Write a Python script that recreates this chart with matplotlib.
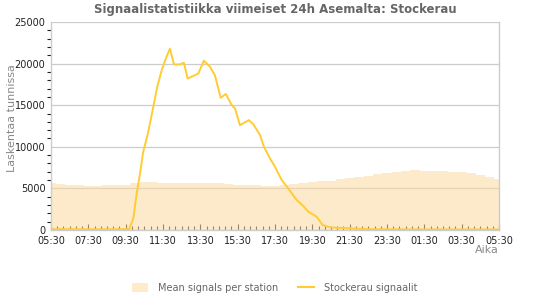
import matplotlib
matplotlib.use("Agg")
import matplotlib.pyplot as plt
import numpy as np
from matplotlib.lines import Line2D
from matplotlib.patches import Patch

# Hours after 05:30 for the mean-signal area (every 30 min)
mean_hours = [i * 0.5 for i in range(49)]
mean_values = [5600, 5550, 5400, 5400, 5300, 5300, 5400, 5400, 5450, 5600,
               5750, 5750, 5700, 5650, 5650, 5650, 5650, 5650, 5600, 5500,
               5450, 5350, 5350, 5300, 5300, 5350, 5500, 5600, 5750, 5850,
               5900, 6100, 6200, 6400, 6500, 6700, 6850, 7000, 7100, 7200,
               7150, 7100, 7100, 7000, 6950, 6800, 6600, 6400, 6100]

# Station signal line
station_hours = [0, 1, 2, 3, 4.0, 4.2, 4.41, 4.59, 4.77, 4.94, 5.2, 5.48, 5.7,
                 5.93, 6.15, 6.37, 6.59, 6.91, 7.12, 7.32, 7.6, 7.89, 8.19,
                 8.52, 8.78, 9.09, 9.37, 9.68, 9.86, 10.12, 10.6, 10.84, 11.2,
                 11.41, 11.73, 12.0, 12.36, 12.71, 13.16, 13.51, 13.78, 14.23,
                 14.55, 14.94, 16.0, 16.9, 18, 20, 22, 24]
station_values = [100, 100, 80, 80, 100, 150, 1400, 4400, 6800, 9400, 11700,
                  14800, 17300, 19200, 20600, 21800, 19900, 19900, 20100, 18200,
                  18500, 18800, 20350, 19600, 18600, 15900, 16350, 15000, 14600,
                  12600, 13200, 12700, 11400, 10000, 8600, 7600, 6000, 5000,
                  3600, 2900, 2200, 1600, 600, 320, 200, 100, 80, 60, 60, 60]

tick_labels = ["05:30", "07:30", "09:30", "11:30", "13:30", "15:30", "17:30",
               "19:30", "21:30", "23:30", "01:30", "03:30", "05:30"]

title = "Signaalistatistiikka viimeiset 24h Asemalta: Stockerau"
ylabel = "Laskentaa tunnissa"
xlabel = "Aika"
legend_labels = ["Mean signals per station", "Stockerau signaalit"]

fill_color = "#FDEBC9"
line_color = "#FFCC33"
grid_color = "#CCCCCC"

fig = plt.figure(figsize=(5.5, 3.0), dpi=100)
ax = fig.add_axes([51 / 550, 1 - 230 / 300, 448 / 550, 208 / 300])

ax.set_xlim(0, 24)
ax.set_ylim(0, 25000)

ax.fill_between(mean_hours, mean_values, step="mid", color="#FAD9A0",
                alpha=0.55, linewidth=0, zorder=2)
ax.plot(station_hours, station_values, color=line_color, linewidth=1.4,
        zorder=3)

ax.set_yticks(np.arange(0, 25001, 5000))
ax.set_yticks(np.arange(0, 25001, 1000), minor=True)
ax.set_xticks(np.arange(0, 24.01, 2))
ax.set_xticklabels(tick_labels)
ax.set_xticks(np.arange(0, 24.01, 1 / 3), minor=True)

ax.yaxis.grid(True, which="major", color=grid_color, linewidth=0.9, zorder=1)
ax.set_axisbelow(True)

for s in ax.spines.values():
    s.set_color(grid_color)
    s.set_linewidth(1.0)
ax.spines["top"].set_visible(False)

ax.tick_params(axis="x", which="major", direction="in", length=4,
               color="#222222", width=0.8, labelsize=7, labelcolor="#222222",
               pad=4)
ax.tick_params(axis="x", which="minor", direction="in", length=3,
               color="#222222", width=0.8)
ax.tick_params(axis="y", which="major", direction="out", length=0,
               labelsize=7, labelcolor="#222222", pad=4)
ax.tick_params(axis="y", which="minor", direction="out", length=3,
               color="#222222", width=0.8)

fig.text(0.5, 1 - 10 / 300, title, ha="center", va="center", fontsize=8.5,
         fontweight="bold", color="#666666")
fig.text(12 / 550, 1 - 118 / 300, ylabel, rotation=90, ha="center",
         va="center", fontsize=8, color="#888888")
fig.text(499 / 550, 1 - 250 / 300, xlabel, ha="right", va="center",
         fontsize=8, color="#888888")

handles = [Patch(facecolor=fill_color, edgecolor="none"),
           Line2D([0], [0], color=line_color, linewidth=1.5)]
fig.legend(handles, legend_labels, loc="center", bbox_to_anchor=(0.5, 1 - 288 / 300),
           ncol=2, frameon=False, fontsize=7, labelcolor="#666666",
           handlelength=1.6, handleheight=1.0, columnspacing=2.0,
           handletextpad=1.1)

fig.savefig("out.png", dpi=100)
